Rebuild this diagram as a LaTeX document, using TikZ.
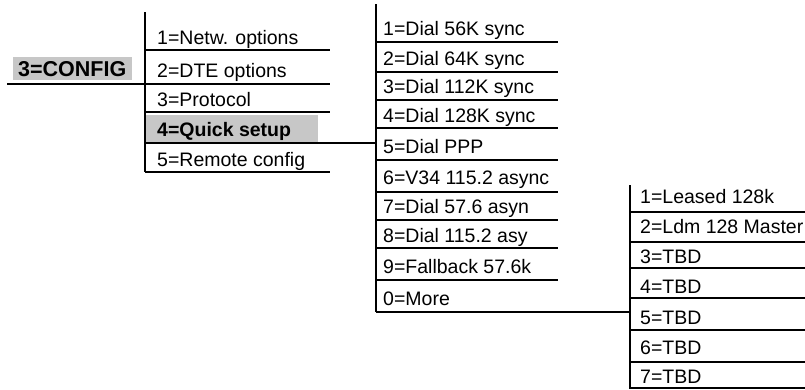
\documentclass[tikz,border=0pt]{standalone}
\usepackage{fontspec}
\setmainfont{Liberation Sans}
\begin{document}
\begin{tikzpicture}[x=1pt,y=-1pt,
  item/.style={anchor=base west, inner sep=0pt, font=\fontsize{19.5}{20}\selectfont},
  bitem/.style={anchor=base west, inner sep=0pt, font=\fontsize{19.5}{20}\selectfont\bfseries},
  hl/.style={fill=black!22},
  hrule/.style={line width=1.3pt},
  vrule/.style={line width=1.8pt}]
\useasboundingbox (0,0) rectangle (805,389);

% highlights
\fill[hl] (13,57) rectangle (132,80);
\fill[hl] (146,115) rectangle (318,142);

% root
\node[bitem, font=\fontsize{21.5}{22}\selectfont\bfseries] (config) at (18,76) {3=CONFIG};
\coordinate (cfgL) at (7,84);
\coordinate (v1a) at (145,12);
\coordinate (v1b) at (145,172);
\coordinate (v1j) at (145,84);
\draw[vrule] (v1a) -- (v1b);
\draw[hrule] (cfgL) -- (v1j);

% column 1
\node[item] (c1a) at (157,44) {1=Netw. options};
\node[item] (c1b) at (157,77) {2=DTE options};
\node[item] (c1c) at (157,106) {3=Protocol};
\node[bitem] (c1d) at (157,136) {4=Quick setup};
\node[item] (c1e) at (157,166) {5=Remote config};
\foreach \y in {50,84,112,172} \draw[hrule] (145,\y) -- (330,\y);

% column 2
\coordinate (v2a) at (376,4);
\coordinate (v2b) at (376,312);
\coordinate (q1) at (145,143);
\coordinate (q2) at (376,143);
\draw[vrule] (v2a) -- (v2b);
\draw[hrule] (q1) -- (q2);
\node[item] (c2a) at (383,35) {1=Dial 56K sync};
\node[item] (c2b) at (383,65) {2=Dial 64K sync};
\node[item] (c2c) at (383,93) {3=Dial 112K sync};
\node[item] (c2d) at (383,122) {4=Dial 128K sync};
\node[item] (c2e) at (383,153) {5=Dial PPP};
\node[item] (c2f) at (383,184) {6=V34 115.2 async};
\node[item] (c2g) at (383,213) {7=Dial 57.6 asyn};
\node[item] (c2h) at (383,242) {8=Dial 115.2 asy};
\node[item] (c2i) at (383,273) {9=Fallback 57.6k};
\node[item] (c2j) at (383,305) {0=More};
\foreach \y in {42,72,100,128,160,192,220,248,280} \draw[hrule] (376,\y) -- (558,\y);

% column 3
\coordinate (v3a) at (630,185);
\coordinate (v3b) at (630,389);
\coordinate (m1) at (376,312);
\coordinate (m2) at (630,312);
\draw[vrule] (v3a) -- (v3b);
\draw[hrule] (m1) -- (m2);
\node[item] (c3a) at (640,203) {1=Leased 128k};
\node[item] (c3b) at (640,233) {2=Ldm 128 Master};
\node[item] (c3c) at (640,263) {3=TBD};
\node[item] (c3d) at (640,293) {4=TBD};
\node[item] (c3e) at (640,324) {5=TBD};
\node[item] (c3f) at (640,354) {6=TBD};
\node[item] (c3g) at (640,383) {7=TBD};
\foreach \y in {212,242,268,298,330,362,388} \draw[hrule] (630,\y) -- (805,\y);
\end{tikzpicture}
\end{document}
